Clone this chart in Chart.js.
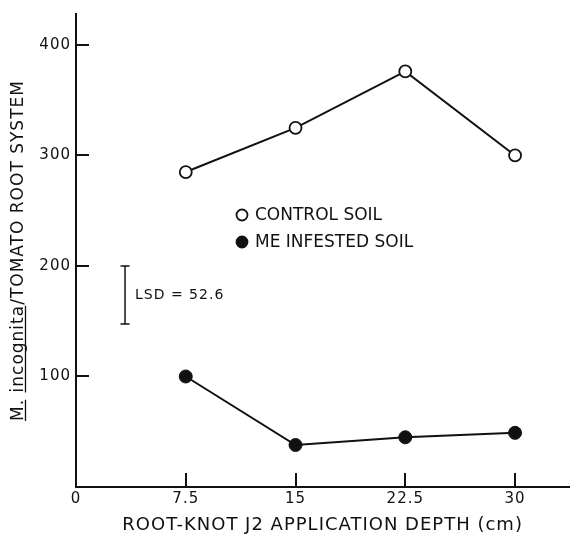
<!DOCTYPE html>
<html>
<head>
<meta charset="utf-8">
<script src="https://cdn.jsdelivr.net/npm/chart.js@4.4.1/dist/chart.umd.min.js"></script>
<style>
html,body{margin:0;padding:0;background:#fff;}
#wrap{width:577px;height:538px;position:relative;}
</style>
</head>
<body>
<div id="wrap"><canvas id="c"></canvas></div>
<script>
// ---- data ----
const depths = [7.5, 15, 22.5, 30];
const controlSoil = [285, 325, 376, 300];
const infestedSoil = [100, 38, 45, 49];
const seriesLabels = ['CONTROL SOIL', 'ME INFESTED SOIL'];
const xTickValues = [0, 7.5, 15, 22.5, 30];
const yTickValues = [100, 200, 300, 400];
const lsdValue = 52.6;
const lsdTop = 200;
const lsdX = 3.35;
const xTitle = 'ROOT-KNOT J2 APPLICATION DEPTH (cm)';
const yTitle = 'M. incognita/TOMATO ROOT SYSTEM';

const FONT = 'DejaVu Sans';
const SPACING = '1px';

const spacingPlugin = {
  id: 'spacing',
  beforeDraw(chart) { chart.ctx.letterSpacing = SPACING; }
};

const extras = {
  id: 'extras',
  afterDraw(chart) {
    const ctx = chart.ctx, xs = chart.scales.x, ys = chart.scales.y, a = chart.chartArea;
    ctx.save();
    ctx.strokeStyle = '#111';
    ctx.lineWidth = 2;
    xTickValues.filter(v => v > 0).forEach(v => {
      const px = Math.round(xs.getPixelForValue(v));
      ctx.beginPath(); ctx.moveTo(px, a.bottom); ctx.lineTo(px, a.bottom - 14); ctx.stroke();
    });
    yTickValues.forEach(v => {
      const py = Math.round(ys.getPixelForValue(v));
      ctx.beginPath(); ctx.moveTo(a.left, py); ctx.lineTo(a.left + 13, py); ctx.stroke();
    });
    // LSD bar
    const lx = xs.getPixelForValue(lsdX);
    const y1 = ys.getPixelForValue(lsdTop), y2 = ys.getPixelForValue(lsdTop - lsdValue);
    ctx.lineWidth = 1.5;
    ctx.beginPath();
    ctx.moveTo(lx, y1); ctx.lineTo(lx, y2);
    ctx.moveTo(lx - 4.5, y1); ctx.lineTo(lx + 4.5, y1);
    ctx.moveTo(lx - 4.5, y2); ctx.lineTo(lx + 4.5, y2);
    ctx.stroke();
    ctx.fillStyle = '#111';
    ctx.letterSpacing = SPACING;
    ctx.font = '14px ' + FONT;
    ctx.textBaseline = 'middle';
    ctx.textAlign = 'left';
    ctx.fillText('LSD = ' + lsdValue, lx + 10, (y1 + y2) / 2);
    // legend
    ctx.letterSpacing = '0px';
    const lgX = 242, lgY = [215, 242];
    chart.data.datasets.forEach((ds, i) => {
      ctx.beginPath();
      ctx.arc(lgX, lgY[i], 5.5, 0, Math.PI * 2);
      ctx.fillStyle = ds.pointBackgroundColor;
      ctx.fill();
      ctx.lineWidth = 1.8;
      ctx.strokeStyle = '#111';
      ctx.stroke();
      ctx.fillStyle = '#111';
      ctx.font = '17px ' + FONT;
      ctx.fillText(ds.label, lgX + 13, lgY[i] + 1);
    });
    // underline "M." and "incognita" in y title
    const t = ys.options.title;
    ctx.letterSpacing = SPACING;
    ctx.font = t.font.size + 'px ' + FONT;
    const full = ctx.measureText(yTitle).width;
    const cy = (a.top + a.bottom) / 2;
    const start = cy + full / 2; // rotated: text runs bottom -> top
    const wM = ctx.measureText('M.').width;
    const wSp = ctx.measureText('M. ').width;
    const wInc = ctx.measureText('incognita').width;
    const ux = 25.5;
    ctx.lineWidth = 1.3;
    ctx.strokeStyle = '#111';
    ctx.beginPath();
    ctx.moveTo(ux, start); ctx.lineTo(ux, start - wM + 1);
    ctx.moveTo(ux, start - wSp); ctx.lineTo(ux, start - wSp - wInc + 1);
    ctx.stroke();
    ctx.restore();
  }
};

new Chart(document.getElementById('c'), {
  type: 'line',
  data: {
    datasets: [
      {
        label: seriesLabels[0],
        data: depths.map((d, i) => ({x: d, y: controlSoil[i]})),
        borderColor: '#111', borderWidth: 2,
        pointRadius: 6, pointBorderWidth: 1.8,
        pointBackgroundColor: '#ffffff', pointBorderColor: '#111'
      },
      {
        label: seriesLabels[1],
        data: depths.map((d, i) => ({x: d, y: infestedSoil[i]})),
        borderColor: '#111', borderWidth: 2,
        pointRadius: 6.5, pointBorderWidth: 1,
        pointBackgroundColor: '#111111', pointBorderColor: '#111'
      }
    ]
  },
  options: {
    responsive: true,
    maintainAspectRatio: false,
    animation: false,
    layout: {padding: {top: 10, right: 2, left: 0, bottom: 0}},
    plugins: {legend: {display: false}, tooltip: {enabled: false}},
    scales: {
      x: {
        type: 'linear', min: 0, max: 33.7,
        afterBuildTicks: s => { s.ticks = xTickValues.map(v => ({value: v})); },
        afterFit: s => { s.height = 51; },
        grid: {display: false, drawTicks: false},
        border: {display: true, color: '#111', width: 2},
        ticks: {color: '#111', font: {family: FONT, size: 15}, padding: 3, maxRotation: 0,
                callback: v => String(v)},
        title: {display: true, text: xTitle, color: '#111', font: {family: FONT, size: 18}, padding: {top: 0, bottom: 2}}
      },
      y: {
        type: 'linear', min: 0, max: 428,
        afterBuildTicks: s => { s.ticks = yTickValues.map(v => ({value: v})); },
        afterFit: s => { s.width = 76; },
        grid: {display: false, drawTicks: false},
        border: {display: true, color: '#111', width: 2},
        ticks: {color: '#111', font: {family: FONT, size: 15}, padding: 5},
        title: {display: true, text: yTitle, color: '#111', font: {family: FONT, size: 17}, padding: {top: 8, bottom: 0}}
      }
    }
  },
  plugins: [spacingPlugin, extras]
});
</script>
</body>
</html>
